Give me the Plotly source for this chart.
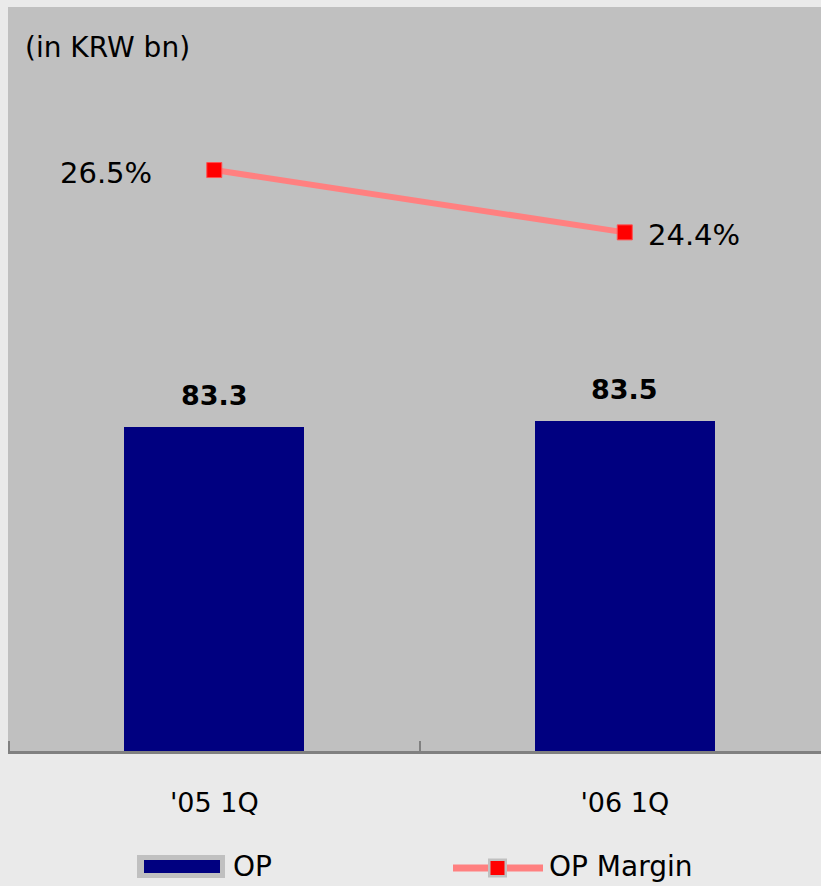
import plotly.graph_objects as go

# ---- data ----
categories = ["'05 1Q", "'06 1Q"]
op_values = [83.3, 83.5]
op_margin = [26.5, 24.4]
op_labels = ["83.3", "83.5"]
margin_labels = ["26.5%", "24.4%"]
unit_note = "(in KRW bn)"
series_names = ["OP", "OP Margin"]

W, H = 821, 886
L, R, T, B = 8, 0, 7, 135
PW, PH = W - L - R, H - T - B
FONT = "DejaVu Sans"
NAVY = "#000080"
SALMON = "#ff8080"


def px(x):
    return (x - L) / PW


def py(y):
    return (H - B - y) / PH


fig = go.Figure()
fig.add_trace(go.Bar(
    x=categories, y=op_values, name=series_names[0],
    marker=dict(color=NAVY, line=dict(width=0)),
    width=0.4385, showlegend=False,
))
fig.add_trace(go.Scatter(
    x=categories, y=op_margin, name=series_names[1], yaxis="y2",
    mode="lines+markers",
    line=dict(color=SALMON, width=6),
    marker=dict(symbol="square", size=15, color="#ff0000",
                line=dict(color="#ff5050", width=1)),
    showlegend=False, cliponaxis=False,
))

annotations = []
for c, v, t in zip(categories, op_values, op_labels):
    annotations.append(dict(x=c, y=v, xref="x", yref="y", text=t,
                            showarrow=False, yshift=32,
                            font=dict(family=FONT, size=27, color="black", weight="bold")))
# margin labels: first left of marker, second right
annotations.append(dict(x=categories[0], y=op_margin[0], xref="x", yref="y2",
                        text=margin_labels[0], showarrow=False,
                        xanchor="right", xshift=-60, yshift=-3,
                        font=dict(family=FONT, size=29, color="black")))
annotations.append(dict(x=categories[1], y=op_margin[1], xref="x", yref="y2",
                        text=margin_labels[1], showarrow=False,
                        xanchor="left", xshift=21, yshift=-3,
                        font=dict(family=FONT, size=29, color="black")))
annotations.append(dict(x=px(23), y=py(48), xref="paper", yref="paper",
                        text=unit_note, showarrow=False,
                        xanchor="left", yanchor="middle",
                        font=dict(family=FONT, size=28, color="black")))
# legend text
annotations.append(dict(x=px(231), y=py(866), xref="paper", yref="paper",
                        text=series_names[0], showarrow=False,
                        xanchor="left", yanchor="middle",
                        font=dict(family=FONT, size=28, color="black")))
annotations.append(dict(x=px(547), y=py(866), xref="paper", yref="paper",
                        text=series_names[1], showarrow=False,
                        xanchor="left", yanchor="middle",
                        font=dict(family=FONT, size=28, color="black")))

shapes = [
    # OP legend symbol
    dict(type="rect", xref="paper", yref="paper",
         x0=px(137), x1=px(225), y0=py(878), y1=py(855),
         fillcolor="#c0c0c0", line=dict(width=0)),
    dict(type="rect", xref="paper", yref="paper",
         x0=px(144), x1=px(220), y0=py(873), y1=py(860),
         fillcolor=NAVY, line=dict(width=0)),
    # OP Margin legend symbol
    dict(type="line", xref="paper", yref="paper",
         x0=px(453), x1=px(543), y0=py(868), y1=py(868),
         line=dict(color=SALMON, width=7)),
    dict(type="rect", xref="paper", yref="paper",
         x0=px(488), x1=px(507), y0=py(877.5), y1=py(858.5),
         fillcolor="#c0c0c0", line=dict(width=0)),
    dict(type="rect", xref="paper", yref="paper",
         x0=px(490.5), x1=px(504.5), y0=py(875), y1=py(861),
         fillcolor="#ff0000", line=dict(width=0)),
]

x0 = -0.5025
fig.update_layout(
    width=W, height=H,
    margin=dict(l=L, r=R, t=T, b=B, pad=0),
    paper_bgcolor="#eaeaea",
    plot_bgcolor="#c0c0c0",
    font=dict(family=FONT, size=28, color="black"),
    showlegend=False,
    bargap=0,
    xaxis=dict(
        type="category", range=[x0, x0 + PW / 410.5],
        showline=True, linecolor="#808080", linewidth=3,
        ticks="inside", tickson="boundaries", ticklen=10,
        tickcolor="#808080", tickwidth=2,
        showgrid=False, zeroline=False,
        tickfont=dict(family=FONT, size=27, color="black"),
        ticklabelstandoff=26,
    ),
    yaxis=dict(range=[72.5, 72.5 + PH / 30.0], visible=False,
               showgrid=False, zeroline=False),
    yaxis2=dict(range=[6.92, 6.92 + PH / 29.67], overlaying="y",
                visible=False, showgrid=False, zeroline=False),
    annotations=annotations,
    shapes=shapes,
)

fig.write_html("out.html")
